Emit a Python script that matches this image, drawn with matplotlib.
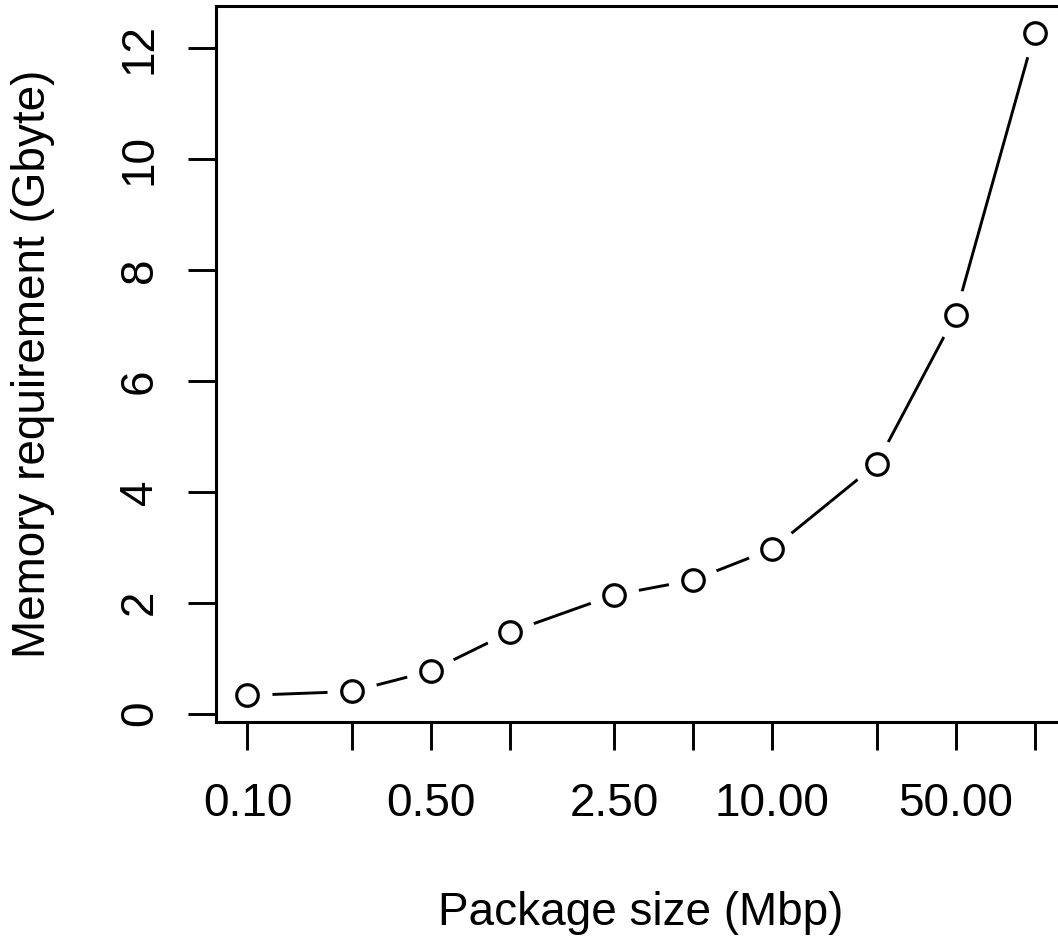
import matplotlib
matplotlib.use('Agg')
import matplotlib.pyplot as plt
import numpy as np

# package size (Mbp) vs memory (Gbyte)
pkg_size = [0.1, 0.25, 0.5, 1, 2.5, 5, 10, 25, 50, 100]
memory = [0.33, 0.40, 0.77, 1.47, 2.14, 2.41, 2.97, 4.50, 7.19, 12.27]
xtick_labels = ['0.10', '', '0.50', '', '2.50', '', '10.00', '', '50.00', '']
yticks = [0, 2, 4, 6, 8, 10, 12]

plt.rcParams['font.family'] = ['Liberation Sans', 'DejaVu Sans']

W, H = 1058, 942
fig = plt.figure(figsize=(W / 100, H / 100), dpi=100)
# plot box in pixels: left 216, right 1066, top 6, bottom 722
ax = fig.add_axes([216 / W, (H - 722) / H, (1066 - 216) / W, (722 - 6) / H])

# R type="b": line with gaps round the points
ax.plot(pkg_size, memory, color='black', lw=2.1, zorder=1)
ax.plot(pkg_size, memory, 'o', ms=36, mfc='white', mec='white', mew=0, zorder=2)
ax.plot(pkg_size, memory, 'o', ms=15.5, mfc='white', mec='black', mew=2.3, zorder=3)

ax.set_xscale('log')
ax.set_xlim(10 ** -1.12, 10 ** 2.12)
ax.set_ylim(-0.15, 12.76)

ax.set_xticks(pkg_size)
ax.set_xticklabels(xtick_labels)
ax.xaxis.set_minor_locator(matplotlib.ticker.NullLocator())
ax.set_yticks(yticks)
ax.set_yticklabels([str(v) for v in yticks], rotation=90, va='center')

ax.tick_params(axis='both', direction='out', length=20, width=2.1,
               labelsize=33)
ax.tick_params(axis='x', pad=23)
ax.tick_params(axis='y', pad=19)

for s in ax.spines.values():
    s.set_linewidth(2.2)

fig.text(641 / W, (H - 925) / H, 'Package size (Mbp)', ha='center',
         va='baseline', fontsize=33)
fig.text(33 / W, (H - 364) / H, 'Memory requirement (Gbyte)', ha='center',
         va='center', rotation=90, fontsize=33)

fig.savefig('out.png', dpi=100)
